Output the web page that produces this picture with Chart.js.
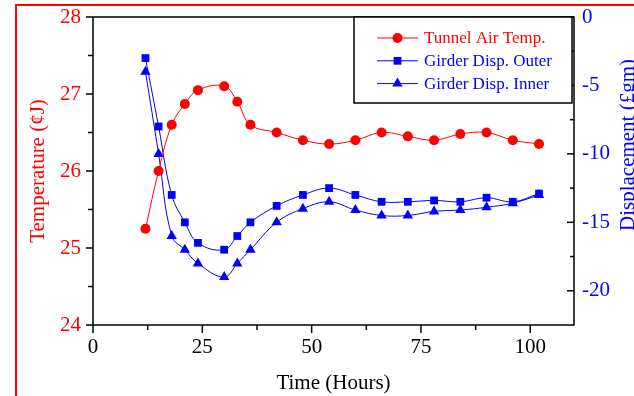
<!DOCTYPE html>
<html>
<head>
<meta charset="utf-8">
<script src="https://cdn.jsdelivr.net/npm/chart.js@4"></script>
<style>
  html, body { margin: 0; padding: 0; background: #fff; }
  #wrap { width: 634px; height: 396px; position: relative; }
</style>
</head>
<body>
<div id="wrap"><canvas id="chart" width="634" height="396"></canvas></div>
<script>
const stunden    = [12, 15, 18, 21, 24, 30, 33, 36, 42, 48, 54, 60, 66, 72, 78, 84, 90, 96, 102];
const luftTemp   = [25.25, 26.0, 26.6, 26.87, 27.05, 27.1, 26.9, 26.6, 26.5, 26.4, 26.35, 26.4, 26.5, 26.45, 26.4, 26.48, 26.5, 26.4, 26.35];
const dispAussen = [-3.0, -8.0, -13.0, -15.0, -16.5, -17.0, -16.0, -15.0, -13.8, -13.0, -12.5, -13.0, -13.5, -13.5, -13.4, -13.5, -13.2, -13.5, -12.9];
const dispInnen  = [-4.0, -10.0, -16.0, -17.0, -18.0, -19.0, -18.0, -17.0, -15.0, -14.0, -13.5, -14.1, -14.5, -14.5, -14.2, -14.1, -13.9, -13.6, -13.0];

// Achsen-Ticks
const xTicks     = [0, 25, 50, 75, 100];
const xMinor     = [12.5, 37.5, 62.5, 87.5];
const tempTicks  = [24, 25, 26, 27, 28];
const tempMinor  = [24.5, 25.5, 26.5, 27.5];
const dispTicks  = [-20, -15, -10, -5, 0];
const dispMinor  = [-17.5, -12.5, -7.5, -2.5];

const ROT = '#ff0000';
const BLAU = '#0000ff';
const schrift = { family: '"Liberation Serif", "Times New Roman", serif', size: 21 };
const legendSchrift = '17px "Liberation Serif", "Times New Roman", serif';

const punkte = werte => stunden.map((x, i) => ({ x, y: werte[i] }));

// Marker wie Chart.js zeichnen (für die Legende)
function marker(ctx, stil, x, y, r) {
  ctx.beginPath();
  if (stil === 'circle') {
    ctx.arc(x, y, r, 0, Math.PI * 2);
  } else if (stil === 'rect') {
    const s = r * Math.SQRT1_2;
    ctx.rect(x - s, y - s, 2 * s, 2 * s);
  } else if (stil === 'triangle') {
    let rad = 0;
    ctx.moveTo(x + Math.sin(rad) * r, y - Math.cos(rad) * r);
    rad += Math.PI * 2 / 3;
    ctx.lineTo(x + Math.sin(rad) * r, y - Math.cos(rad) * r);
    rad += Math.PI * 2 / 3;
    ctx.lineTo(x + Math.sin(rad) * r, y - Math.cos(rad) * r);
    ctx.closePath();
  }
  ctx.fill();
}

function strich(ctx, x1, y1, x2, y2) {
  ctx.beginPath();
  ctx.moveTo(x1, y1);
  ctx.lineTo(x2, y2);
  ctx.stroke();
}

// y-Achsen sollen den Plotbereich nicht nach innen schieben
function ohnePadding(s, breite) {
  s.width = breite;
  s.paddingTop = 0;
  s.paddingBottom = 0;
}

const rahmenPlugin = {
  id: 'rahmen',
  beforeDraw(chart) {
    const ctx = chart.ctx;
    ctx.save();
    ctx.strokeStyle = ROT;
    ctx.lineWidth = 2;
    ctx.strokeRect(16, 5, 700, 500);
    ctx.restore();
  },
  afterDraw(chart) {
    const ctx = chart.ctx;
    const { left, right, top, bottom } = chart.chartArea;
    const sx = chart.scales.x, sT = chart.scales.yT, sD = chart.scales.yD;

    ctx.save();
    // Achsenrahmen
    ctx.strokeStyle = '#000';
    ctx.lineWidth = 1.5;
    ctx.strokeRect(left, top, right - left, bottom - top);

    // Tick-Striche
    xTicks.forEach(v => { const p = sx.getPixelForValue(v); strich(ctx, p, bottom, p, bottom + 8); });
    xMinor.forEach(v => { const p = sx.getPixelForValue(v); strich(ctx, p, bottom, p, bottom + 5); });
    tempTicks.forEach(v => { const p = sT.getPixelForValue(v); strich(ctx, left - 7, p, left, p); });
    tempMinor.forEach(v => { const p = sT.getPixelForValue(v); strich(ctx, left - 5, p, left, p); });
    dispTicks.forEach(v => { const p = sD.getPixelForValue(v); strich(ctx, right - 7, p, right, p); });
    dispMinor.forEach(v => { const p = sD.getPixelForValue(v); strich(ctx, right - 4, p, right, p); });

    // Legende
    const lx = 354, ly = top, lw = 218, lh = 86;
    ctx.fillStyle = '#fff';
    ctx.fillRect(lx, ly, lw, lh);
    ctx.strokeRect(lx, ly, lw, lh);
    ctx.font = legendSchrift;
    ctx.textBaseline = 'middle';
    ctx.textAlign = 'left';
    chart.data.datasets.forEach((ds, i) => {
      const y = ly + 21 + i * 22.8;
      ctx.strokeStyle = ds.borderColor;
      ctx.fillStyle = ds.borderColor;
      ctx.lineWidth = 1;
      strich(ctx, 377, y, 418, y);
      marker(ctx, ds.pointStyle, 397.5, y, ds.pointRadius);
      ctx.fillText(ds.label, 424, y + 1);
    });

    // rechter Achsentitel (von unten nach oben)
    ctx.translate(634, 231);
    ctx.rotate(-Math.PI / 2);
    ctx.font = schrift.size + 'px ' + schrift.family;
    ctx.fillStyle = BLAU;
    ctx.textBaseline = 'alphabetic';
    ctx.fillText('Displacement (£gm)', 0, 0);
    ctx.restore();
  }
};

new Chart(document.getElementById('chart'), {
  type: 'line',
  data: {
    datasets: [
      {
        label: 'Tunnel Air Temp.',
        data: punkte(luftTemp),
        yAxisID: 'yT',
        borderColor: ROT,
        backgroundColor: ROT,
        borderWidth: 1,
        pointStyle: 'circle',
        pointRadius: 5,
        pointBorderWidth: 0,
        tension: 0.4
      },
      {
        label: 'Girder Disp. Outer',
        data: punkte(dispAussen),
        yAxisID: 'yD',
        borderColor: BLAU,
        backgroundColor: BLAU,
        borderWidth: 1,
        pointStyle: 'rect',
        pointRadius: 5.5,
        pointBorderWidth: 0,
        tension: 0.4
      },
      {
        label: 'Girder Disp. Inner',
        data: punkte(dispInnen),
        yAxisID: 'yD',
        borderColor: BLAU,
        backgroundColor: BLAU,
        borderWidth: 1,
        pointStyle: 'triangle',
        pointRadius: 6,
        pointBorderWidth: 0,
        tension: 0.4
      }
    ]
  },
  options: {
    responsive: false,
    animation: false,
    devicePixelRatio: 1,
    layout: { padding: { top: 17, left: 0, right: 0, bottom: 0 } },
    plugins: { legend: { display: false }, tooltip: { enabled: false } },
    scales: {
      x: {
        type: 'linear',
        min: 0,
        max: 110,
        afterBuildTicks: s => { s.ticks = xTicks.map(v => ({ value: v })); },
        afterFit: s => { s.height = 71; },
        grid: { display: false, drawTicks: false },
        border: { display: false },
        ticks: { color: '#000', font: schrift, padding: 10, maxRotation: 0 },
        title: { display: true, text: 'Time (Hours)', color: '#000', font: schrift, padding: { top: 0, bottom: 0 } }
      },
      yT: {
        position: 'left',
        min: 24,
        max: 28,
        afterBuildTicks: s => { s.ticks = tempTicks.map(v => ({ value: v })); },
        afterFit: s => ohnePadding(s, 93),
        grid: { display: false, drawTicks: false },
        border: { display: false },
        ticks: { color: ROT, font: schrift, padding: 12 },
        title: { display: true, text: 'Temperature (¢J)', color: ROT, font: schrift, padding: { top: 26, bottom: 0 } }
      },
      yD: {
        position: 'right',
        min: -22.5,
        max: 0,
        afterBuildTicks: s => { s.ticks = dispTicks.map(v => ({ value: v })); },
        afterFit: s => ohnePadding(s, 60),
        grid: { display: false, drawTicks: false },
        border: { display: false },
        ticks: { color: BLAU, font: schrift, padding: 8 }
      }
    }
  },
  plugins: [rahmenPlugin]
});
</script>
</body>
</html>
